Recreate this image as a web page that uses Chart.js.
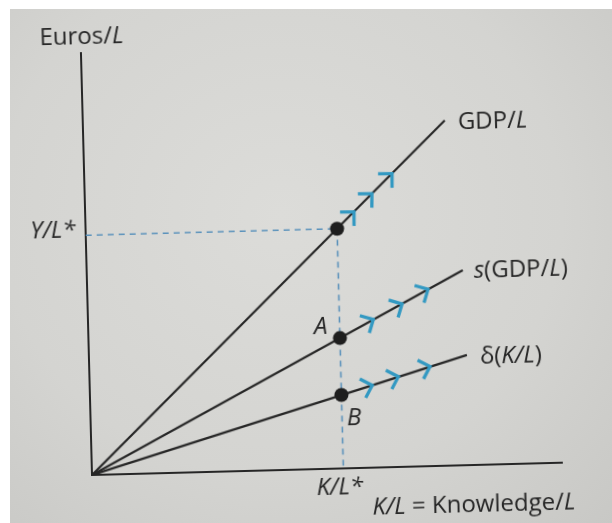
<!DOCTYPE html>
<html>
<head>
<meta charset="utf-8">
<title>Knowledge per worker</title>
<script src="https://cdn.jsdelivr.net/npm/chart.js@4.4.1/dist/chart.umd.min.js"></script>
<style>
  html, body { margin: 0; padding: 0; background: #fff; width: 612px; height: 523px; overflow: hidden; }
  #page {
    position: absolute; left: 10px; top: 9px; width: 602px; height: 514px;
    background: radial-gradient(ellipse at 45% 40%, #dcdcd9 0%, #d4d4d1 60%, #c8c8c5 100%);
  }
  #wrap {
    position: absolute; left: 0; top: 0; width: 612px; height: 545px;
    transform: rotate(-1.5deg); transform-origin: 92px 475px;
  }
</style>
</head>
<body>
<div id="page"></div>
<div id="wrap"><canvas id="chart"></canvas></div>
<script>
// steady state
const kStar = 5.35;
const steadyX = [5.35, 5.35, 5.35];
const steadyY = [5.68, 3.09, 1.74];   // GDP/L, s(GDP/L) at A, delta(K/L) at B

// the three rays from the origin
const gdpX = [0, 7.7];
const gdpY = [0, 8.18];
const savX = [0, 8.0];
const savY = [0, 4.62];
const depX = [0, 8.04];
const depY = [0, 2.61];

// arrow heads along each ray (tip positions)
const gdpArrowX = [5.72, 6.11, 6.55];
const gdpArrowY = [6.07, 6.49, 6.95];
const savArrowX = [6.07, 6.69, 7.25];
const savArrowY = [3.51, 3.86, 4.19];
const depArrowX = [6.01, 6.57, 7.25];
const depArrowY = [1.95, 2.14, 2.36];

const tickLabelsX = ['K/L*'];
const tickLabelsY = ['Y/L*'];

const FONT = '"Open Sans", "DejaVu Sans", sans-serif';
const SIZE = 24;
const INK = '#262626';
const ARROW = '#3399c2';
const DASH = '#5b92bb';

const pts = (xs, ys) => xs.map((x, i) => ({x: x, y: ys[i]}));

// text made of plain / italic pieces
function drawRuns(ctx, runs, x, y, size, align) {
    ctx.save();
    ctx.textBaseline = 'middle';
    ctx.fillStyle = INK;
    let total = 0;
    runs.forEach(r => {
        ctx.font = (r[1] ? 'italic ' : '') + size + 'px ' + FONT;
        total += ctx.measureText(r[0]).width;
    });
    let cx = align === 'right' ? x - total : (align === 'center' ? x - total / 2 : x);
    runs.forEach(r => {
        ctx.font = (r[1] ? 'italic ' : '') + size + 'px ' + FONT;
        ctx.textAlign = 'left';
        ctx.fillText(r[0], cx, y);
        cx += ctx.measureText(r[0]).width;
    });
    ctx.restore();
}

const annotations = {
    id: 'annotations',
    afterDatasetsDraw(chart) {
        const ctx = chart.ctx;
        const xs = chart.scales.x, ys = chart.scales.y;
        const area = chart.chartArea;
        const px = v => xs.getPixelForValue(v);
        const py = v => ys.getPixelForValue(v);

        // chevrons pointing outward along each ray
        const rays = [
            [gdpX, gdpY, gdpArrowX, gdpArrowY],
            [savX, savY, savArrowX, savArrowY],
            [depX, depY, depArrowX, depArrowY]
        ];
        ctx.save();
        ctx.strokeStyle = ARROW;
        ctx.lineWidth = 3.3;
        ctx.lineCap = 'butt';
        ctx.lineJoin = 'miter';
        rays.forEach(r => {
            const ang = Math.atan2(py(r[1][1]) - py(r[1][0]), px(r[0][1]) - px(r[0][0]));
            r[2].forEach((ax, i) => {
                const x = px(ax), y = py(r[3][i]);
                const len = 14;
                ctx.beginPath();
                ctx.moveTo(x + len * Math.cos(ang + Math.PI - 0.78), y + len * Math.sin(ang + Math.PI - 0.78));
                ctx.lineTo(x, y);
                ctx.lineTo(x + len * Math.cos(ang + Math.PI + 0.78), y + len * Math.sin(ang + Math.PI + 0.78));
                ctx.stroke();
            });
        });
        ctx.restore();

        // labels at the ends of the rays
        drawRuns(ctx, [['GDP/', false], ['L', true]], px(gdpX[1]) + 13, py(gdpY[1]) + 2, SIZE);
        drawRuns(ctx, [['s', true], ['(GDP/', false], ['L', true], [')', false]], px(savX[1]) + 11, py(savY[1]) + 1, SIZE);
        drawRuns(ctx, [['\u03b4(', false], ['K/L', true], [')', false]], px(depX[1]) + 13, py(depY[1]) + 2, SIZE);

        // steady-state points
        drawRuns(ctx, [['A', true]], px(steadyX[1]) - 19, py(steadyY[1]) - 11, SIZE, 'center');
        drawRuns(ctx, [['B', true]], px(steadyX[2]) + 12, py(steadyY[2]) + 24, SIZE, 'center');

        // axis titles
        drawRuns(ctx, [['Euros/', false], ['L', true]], area.left - 41, area.top - 16, SIZE);
        drawRuns(ctx, [['K/L', true], [' = Knowledge/', false], ['L', true]], px(kStar) + 28, area.bottom + 40, SIZE);
    }
};

const axisFont = {family: FONT, size: SIZE, style: 'italic'};

new Chart(document.getElementById('chart'), {
    type: 'scatter',
    data: {
        datasets: [
            {data: pts(steadyX, steadyY), order: 0, pointRadius: 7, pointBackgroundColor: '#1e1e1e',
             pointBorderColor: '#1e1e1e', pointBorderWidth: 0},
            {data: pts(gdpX, gdpY), order: 1, showLine: true, borderColor: INK, borderWidth: 2.2, pointRadius: 0},
            {data: pts(savX, savY), order: 1, showLine: true, borderColor: INK, borderWidth: 2.2, pointRadius: 0},
            {data: pts(depX, depY), order: 1, showLine: true, borderColor: INK, borderWidth: 2.2, pointRadius: 0},
            {data: [{x: 0, y: steadyY[0]}, {x: kStar, y: steadyY[0]}], order: 2, showLine: true,
             borderColor: DASH, borderWidth: 1.6, borderDash: [6, 5], pointRadius: 0},
            {data: [{x: kStar, y: steadyY[0]}, {x: kStar, y: 0}], order: 2, showLine: true,
             borderColor: DASH, borderWidth: 1.6, borderDash: [6, 5], pointRadius: 0}
        ]
    },
    options: {
        responsive: true,
        maintainAspectRatio: false,
        animation: false,
        events: [],
        layout: {padding: {top: 53, right: 50, left: 0, bottom: 0}},
        plugins: {legend: {display: false}, tooltip: {enabled: false}},
        scales: {
            x: {
                type: 'linear', min: 0, max: 10,
                grid: {drawOnChartArea: false, drawTicks: false},
                border: {display: true, color: INK, width: 2},
                afterBuildTicks: s => { s.ticks = [{value: kStar}]; },
                afterFit: s => { s.height = 70; },
                ticks: {autoSkip: false, maxRotation: 0, padding: 5, labelOffset: -4, color: INK, font: axisFont,
                        callback: (v, i) => tickLabelsX[i]}
            },
            y: {
                type: 'linear', min: 0, max: 10,
                grid: {drawOnChartArea: false, drawTicks: false},
                border: {display: true, color: INK, width: 2},
                afterBuildTicks: s => { s.ticks = [{value: steadyY[0]}]; },
                afterFit: s => { s.width = 92; },
                ticks: {autoSkip: false, padding: 10, labelOffset: -5, color: INK, font: axisFont,
                        callback: (v, i) => tickLabelsY[i]}
            }
        }
    },
    plugins: [annotations]
});
</script>
</body>
</html>
